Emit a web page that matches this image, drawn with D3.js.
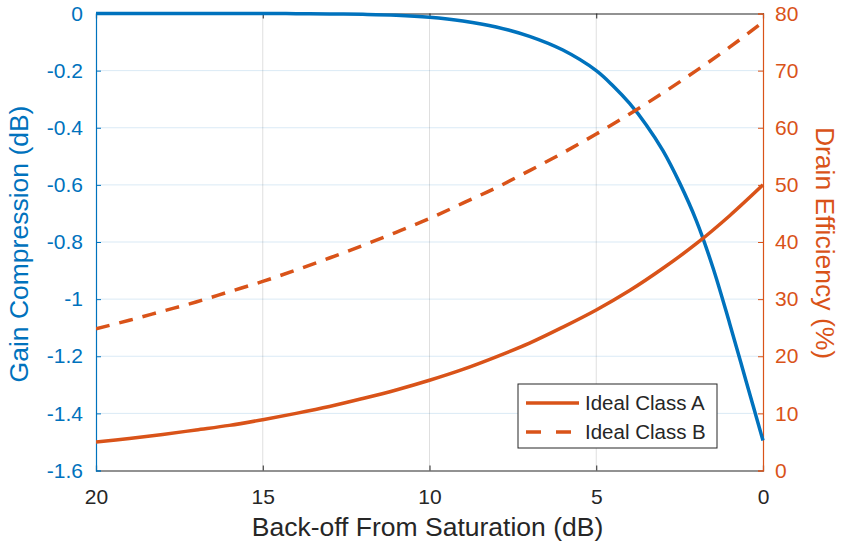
<!DOCTYPE html>
<html>
<head>
<meta charset="utf-8">
<script src="https://d3js.org/d3.v7.min.js"></script>
<style>
  body { margin: 0; background: #fff; }
  text { font-family: "Liberation Sans", Arial, Helvetica, sans-serif; }
</style>
</head>
<body>
<svg id="chart" width="843" height="550"></svg>
<script>
// values
var backoff = [0,1,2,3,4,5,6,7,8,9,10,11,12,13,14,15,16,17,18,19,20];
var classA  = [50.0,44.6,39.7,35.4,31.5,28.1,25.1,22.3,19.9,17.7,15.8,14.1,12.6,11.2,10.0,8.9,7.9,7.1,6.3,5.6,5.0];
var classB  = [78.5,74.1,70.0,66.1,62.4,58.9,55.6,52.5,49.5,46.8,44.1,41.7,39.4,37.2,35.1,33.1,31.3,29.5,27.9,26.3,24.8];

var gainBackoff = [0,0.5,1,1.5,2,2.5,3,3.5,4,4.5,5,6,7,8,9,10,11,12,13,14,15,20];
var gainComp    = [-1.495,-1.29,-1.085,-0.89,-0.725,-0.593,-0.48,-0.39,-0.315,-0.253,-0.2,-0.128,-0.08,-0.047,-0.026,-0.013,-0.006,-0.003,-0.0015,-0.0005,0,0];

var xTicks     = [20,15,10,5,0];
var leftTicks  = [0,-0.2,-0.4,-0.6,-0.8,-1,-1.2,-1.4,-1.6];
var rightTicks = [80,70,60,50,40,30,20,10,0];
var seriesNames = ["Ideal Class A", "Ideal Class B"];

var blue = "#0072BD", orange = "#D95319", dark = "#262626";

var svg = d3.select("#chart");
var L = 96, R = 763, T = 13.5, B = 470.5;

var x  = d3.scaleLinear().domain([20, 0]).range([L, R]);
var yL = d3.scaleLinear().domain([-1.6, 0]).range([B, T]);
var yR = d3.scaleLinear().domain([0, 80]).range([B, T]);

// plain hyphen minus like the original
var fmt = function(d) { return String(d); };

// grid
svg.append("g").selectAll("line")
  .data(xTicks.slice(1, -1)).enter().append("line")
  .attr("x1", function(d) { return x(d); }).attr("x2", function(d) { return x(d); })
  .attr("y1", T).attr("y2", B)
  .attr("stroke", dark).attr("stroke-opacity", 0.15).attr("stroke-width", 1);
svg.append("g").selectAll("line")
  .data(leftTicks.slice(1, -1)).enter().append("line")
  .attr("x1", L).attr("x2", R)
  .attr("y1", function(d) { return yL(d); }).attr("y2", function(d) { return yL(d); })
  .attr("stroke", blue).attr("stroke-opacity", 0.15).attr("stroke-width", 1);

// axes
var xAxis = svg.append("g").attr("transform", "translate(0," + B + ")")
  .call(d3.axisBottom(x).tickValues(xTicks).tickSize(-5).tickPadding(19).tickFormat(fmt));
var xTop = svg.append("g").attr("transform", "translate(0," + T + ")")
  .call(d3.axisTop(x).tickValues(xTicks).tickSize(-5).tickFormat(""));
var lAxis = svg.append("g").attr("transform", "translate(" + L + ",0)")
  .call(d3.axisLeft(yL).tickValues(leftTicks).tickSize(-5).tickPadding(13).tickFormat(fmt));
var rAxis = svg.append("g").attr("transform", "translate(" + R + ",0)")
  .call(d3.axisRight(yR).tickValues(rightTicks).tickSize(-5).tickPadding(12).tickFormat(fmt));

[[xAxis, dark], [xTop, dark], [lAxis, blue], [rAxis, orange]].forEach(function(p) {
  p[0].select(".domain").attr("stroke", p[1]).attr("stroke-width", 1.2);
  p[0].selectAll(".tick line").attr("stroke", p[1]);
  p[0].selectAll(".tick text").attr("fill", p[1]).style("font-size", "21px");
});

// lines
svg.append("clipPath").attr("id", "clip").append("rect")
  .attr("x", L).attr("y", T - 3).attr("width", R - L + 3).attr("height", B - T + 3);

var effLine = d3.line()
  .x(function(d) { return x(d[0]); })
  .y(function(d) { return yR(d[1]); })
  .curve(d3.curveCatmullRom.alpha(0.5));
var gainLine = d3.line()
  .x(function(d) { return x(d[0]); })
  .y(function(d) { return yL(d[1]); })
  .curve(d3.curveCatmullRom.alpha(0.5));

var gainPts = d3.zip(gainBackoff, gainComp).reverse();
var aPts = d3.zip(backoff, classA).reverse();
var bPts = d3.zip(backoff, classB).reverse();

var plot = svg.append("g").attr("clip-path", "url(#clip)");
plot.append("path").datum(gainPts).attr("d", gainLine)
  .attr("fill", "none").attr("stroke", blue).attr("stroke-width", 3.5);
plot.append("path").datum(aPts).attr("d", effLine)
  .attr("fill", "none").attr("stroke", orange).attr("stroke-width", 3.5);
plot.append("path").datum(bPts).attr("d", effLine)
  .attr("fill", "none").attr("stroke", orange).attr("stroke-width", 3.5)
  .attr("stroke-dasharray", "14,10");

// axis labels
svg.append("text").attr("x", (L + R) / 2 - 2).attr("y", 536)
  .attr("text-anchor", "middle").attr("fill", dark).style("font-size", "26.5px")
  .text("Back-off From Saturation (dB)");
svg.append("text").attr("transform", "translate(28,244) rotate(-90)")
  .attr("text-anchor", "middle").attr("fill", blue).style("font-size", "26.5px")
  .text("Gain Compression (dB)");
svg.append("text").attr("transform", "translate(816,243) rotate(90)")
  .attr("text-anchor", "middle").attr("fill", orange).style("font-size", "26.5px")
  .text("Drain Efficiency (%)");

// legend
var lg = svg.append("g").attr("transform", "translate(518,384)");
lg.append("rect").attr("width", 199).attr("height", 64)
  .attr("fill", "#fff").attr("stroke", dark).attr("stroke-width", 1);
var rows = lg.selectAll("g.row").data(seriesNames).enter().append("g")
  .attr("transform", function(d, i) { return "translate(0," + (19 + i * 29) + ")"; });
rows.append("line").attr("x1", 8).attr("x2", 61)
  .attr("stroke", orange).attr("stroke-width", 3.5)
  .attr("stroke-dasharray", function(d, i) { return i ? "15,15" : null; });
rows.append("text").attr("x", 67).attr("dy", "0.36em")
  .attr("fill", dark).style("font-size", "20.5px")
  .text(function(d) { return d; });
</script>
</body>
</html>
